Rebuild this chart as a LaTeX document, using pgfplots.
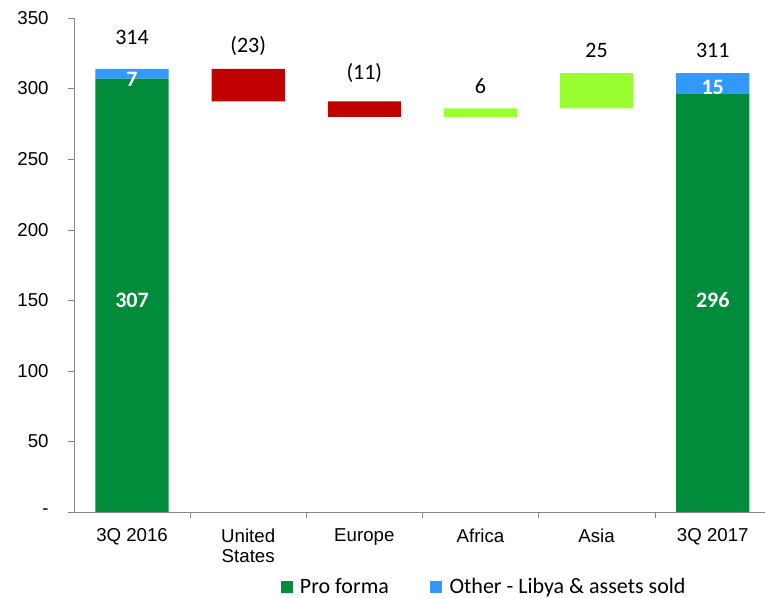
\documentclass[border=0pt]{standalone}
\usepackage{pgfplots}
\pgfplotsset{compat=1.18}
\usepackage{fontspec}
\setmainfont{Liberation Sans}
\newfontfamily\calibri{Carlito}
\definecolor{pfgreen}{RGB}{0,140,58}
\definecolor{othblue}{RGB}{51,153,255}
\definecolor{negred}{RGB}{192,0,0}
\definecolor{poslime}{RGB}{153,255,51}
\definecolor{axgray}{RGB}{134,134,134}

\pgfplotstableread{
x y label
0 336 314
1 330 (23)
2 311 (11)
3 302 6
4 327 25
5 327 311
}\toplabels
\pgfplotstableread{
x y label
0 306.5 7
5 301 15
0 150 307
5 150 296
}\inlabels

\begin{document}
\begin{tikzpicture}
\useasboundingbox (-55.5pt,-64.5pt) rectangle (518.25pt,384pt);
\begin{axis}[
  scale only axis,
  width=518.25pt, height=370.5pt,
  xmin=-0.5, xmax=5.45,
  ymin=0, ymax=350,
  ybar stacked, bar width=0.63,
  axis x line*=bottom, axis y line*=left,
  axis line style={draw=axgray, -},
  tick align=outside,
  ytick={0,50,...,350},
  yticklabels={-,50,100,150,200,250,300,350},
  y tick style={draw=axgray},
  major tick length=4.5pt,
  minor tick length=4.5pt,
  xtick={0,...,5},
  xticklabels={3Q 2016,{United\\States},Europe,Africa,Asia,3Q 2017},
  minor xtick={0.5,1.5,2.5,3.5,4.5},
  major x tick style={draw=none},
  minor x tick style={draw=axgray},
  xticklabel style={align=center, yshift=-4.5pt, font=\fontsize{14}{15.5}\selectfont},
  yticklabel style={xshift=-11pt, font=\fontsize{14}{15}\selectfont},
  legend style={at={(0.593,-0.152)}, anchor=center, legend columns=-1, draw=none,
    inner sep=0pt, nodes={inner sep=1pt},
    font=\calibri\fontsize{16.5}{17}\selectfont,
    /tikz/every even column/.append style={column sep=30pt}},
  legend image code/.code={\fill[#1] (0pt,-4.3pt) rectangle (9pt,4.7pt); \path (13.5pt,0pt);},
]
\addplot[draw=none, fill=none, forget plot] coordinates {(0,0) (1,291) (2,280) (3,280) (4,286) (5,0)};
\addplot[draw=none, fill=pfgreen] coordinates {(0,307) (1,0) (2,0) (3,0) (4,0) (5,296)};
\addlegendentry{Pro forma}
\addplot[draw=none, fill=othblue] coordinates {(0,7) (1,0) (2,0) (3,0) (4,0) (5,15)};
\addlegendentry{Other - Libya \& assets sold}
\addplot[draw=none, fill=negred, forget plot] coordinates {(0,0) (1,23) (2,11) (3,0) (4,0) (5,0)};
\addplot[draw=none, fill=poslime, forget plot] coordinates {(0,0) (1,0) (2,0) (3,6) (4,25) (5,0)};
\end{axis}
\begin{axis}[
  scale only axis,
  width=518.25pt, height=370.5pt,
  xmin=-0.5, xmax=5.45,
  ymin=0, ymax=350,
  hide axis,
]
\addplot[only marks, mark=none, nodes near coords, point meta=explicit symbolic,
  nodes near coords style={font=\calibri\fontsize{16.5}{17}\selectfont, anchor=center}]
  table[x=x, y=y, meta=label] {\toplabels};
\addplot[only marks, mark=none, nodes near coords, point meta=explicit symbolic,
  nodes near coords style={font=\calibri\bfseries\fontsize{16.5}{17}\selectfont, text=white, anchor=center}]
  table[x=x, y=y, meta=label] {\inlabels};
\end{axis}
\end{tikzpicture}
\end{document}
